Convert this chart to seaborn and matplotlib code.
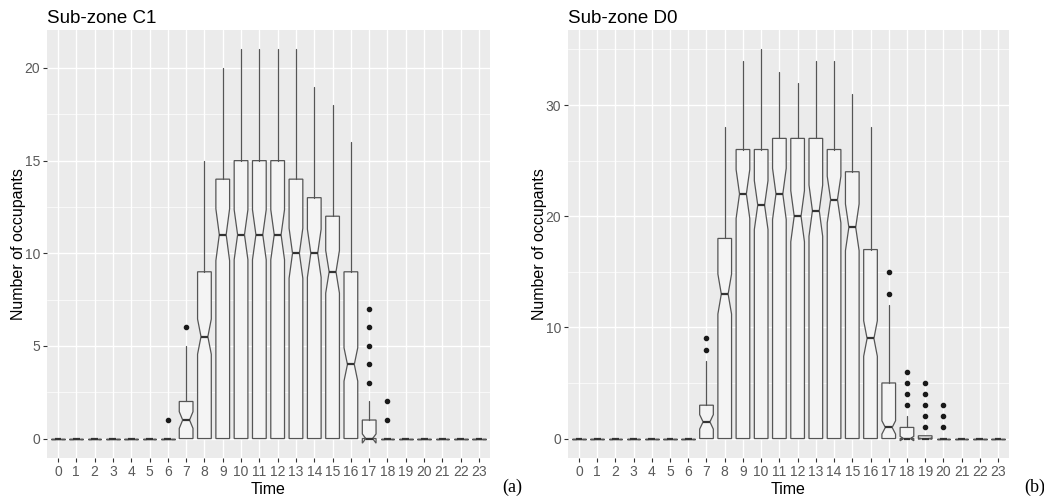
import matplotlib
matplotlib.use("Agg")
import matplotlib.pyplot as plt
import seaborn as sns
from matplotlib.ticker import MultipleLocator

# ---------------- data ----------------
hours = list(range(24))
hour_labels = [str(h) for h in hours]

# Panel (a): Sub-zone C1
c1_q1 = [0] * 24
c1_med = [0, 0, 0, 0, 0, 0, 0, 1, 5.5, 11, 11, 11, 11, 10, 10, 9, 4, 0, 0, 0, 0, 0, 0, 0]
c1_q3 = [0, 0, 0, 0, 0, 0, 0, 2, 9, 14, 15, 15, 15, 14, 13, 12, 9, 1, 0, 0, 0, 0, 0, 0]
c1_whishi = [0, 0, 0, 0, 0, 0, 0, 5, 15, 20, 21, 21, 21, 21, 19, 18, 16, 2, 0, 0, 0, 0, 0, 0]
c1_notch = [0, 0, 0, 0, 0, 0, 0, 0.45, 0.95, 1.4, 1.35, 1.35, 1.35, 1.35, 1.3, 1.15, 0.9, 0.25, 0, 0, 0, 0, 0, 0]
c1_fliers = {6: [1], 7: [6], 17: [3, 4, 5, 6, 7], 18: [1, 2]}

# Panel (b): Sub-zone D0
d0_q1 = [0] * 24
d0_med = [0, 0, 0, 0, 0, 0, 0, 1.5, 13, 22, 21, 22, 20, 20.5, 21.5, 19, 9, 1, 0, 0, 0, 0, 0, 0]
d0_q3 = [0, 0, 0, 0, 0, 0, 0, 3, 18, 26, 26, 27, 27, 27, 26, 24, 17, 5, 1, 0.25, 0, 0, 0, 0]
d0_whishi = [0, 0, 0, 0, 0, 0, 0, 7, 28, 34, 35, 33, 32, 34, 34, 31, 28, 12, 2, 0.25, 0, 0, 0, 0]
d0_notch = [0, 0, 0, 0, 0, 0, 0, 0.65, 1.8, 2.2, 2.2, 2.3, 2.3, 2.3, 2.1, 2.1, 1.6, 0.6, 0.2, 0.05, 0, 0, 0, 0]
d0_fliers = {7: [8, 9], 17: [13, 15], 18: [3, 4, 5, 6], 19: [1, 2, 3, 4, 5], 20: [1, 2, 3]}

titles = ["Sub-zone C1", "Sub-zone D0"]
panel_tags = ["(a)", "(b)"]
x_label = "Time"
y_label = "Number of occupants"

# ---------------- style ----------------
sns.set_theme(style="darkgrid")
plt.rcParams["font.family"] = ["Liberation Sans", "DejaVu Sans"]
plt.rcParams["axes.facecolor"] = "#EBEBEB"
plt.rcParams["grid.color"] = "white"

fig = plt.figure(figsize=(10.44, 5.04), dpi=100)
W, H = 1044, 504

def make_stats(q1, med, q3, whishi, notch, fliers):
    stats = []
    for h in hours:
        stats.append(dict(
            med=med[h], q1=q1[h], q3=q3[h],
            whislo=q1[h], whishi=whishi[h],
            cilo=med[h] - notch[h], cihi=med[h] + notch[h],
            fliers=fliers.get(h, []),
        ))
    return stats

panels = [
    dict(stats=make_stats(c1_q1, c1_med, c1_q3, c1_whishi, c1_notch, c1_fliers),
         left=47, right=490, ylim=(-1.05, 22.05), major=5, minor=2.5, tagx=512),
    dict(stats=make_stats(d0_q1, d0_med, d0_q3, d0_whishi, d0_notch, d0_fliers),
         left=568, right=1009, ylim=(-1.75, 36.75), major=10, minor=5, tagx=1035),
]

top_px, bot_px = 30, 458
edge = "#555555"
for i, p in enumerate(panels):
    ax = fig.add_axes([p["left"] / W, 1 - bot_px / H,
                       (p["right"] - p["left"]) / W, (bot_px - top_px) / H])
    ax.set_facecolor("#EBEBEB")
    ax.bxp(p["stats"], positions=hours, widths=0.75, shownotches=True,
           showcaps=False, patch_artist=True,
           boxprops=dict(facecolor="#F4F4F4", edgecolor=edge, linewidth=0.9),
           whiskerprops=dict(color=edge, linewidth=0.9),
           medianprops=dict(color="#333333", linewidth=1.6),
           flierprops=dict(marker="o", markerfacecolor="#1a1a1a",
                           markeredgecolor="#1a1a1a", markersize=3.0),
           manage_ticks=False, zorder=3)
    ax.set_xlim(-0.6, 23.6)
    ax.set_ylim(*p["ylim"])
    ax.set_xticks(hours)
    ax.set_xticklabels(hour_labels)
    ax.yaxis.set_major_locator(MultipleLocator(p["major"]))
    ax.yaxis.set_minor_locator(MultipleLocator(p["minor"]))
    ax.grid(which="major", color="white", linewidth=1.0)
    ax.grid(which="minor", axis="y", color="white", linewidth=0.5)
    ax.set_axisbelow(True)
    for s in ax.spines.values():
        s.set_visible(False)
    ax.tick_params(axis="both", which="major", direction="out", length=3,
                   width=0.8, color="#333333", labelcolor="#5a5a5a",
                   labelsize=10, pad=2, bottom=True, left=True)
    ax.tick_params(axis="y", which="minor", length=0, left=False)
    ax.set_xlabel(x_label, fontsize=11.5, color="black", labelpad=2)
    ax.set_ylabel(y_label, fontsize=11.5, color="black", labelpad=-1)
    ax.set_title(titles[i], loc="left", fontsize=13.5, color="black", pad=5)
    fig.text(p["tagx"] / W, 1 - 487 / H, panel_tags[i], ha="center", va="center",
             fontsize=13, family=["Liberation Serif", "DejaVu Serif"], color="black")

fig.savefig("out.png", dpi=100)
